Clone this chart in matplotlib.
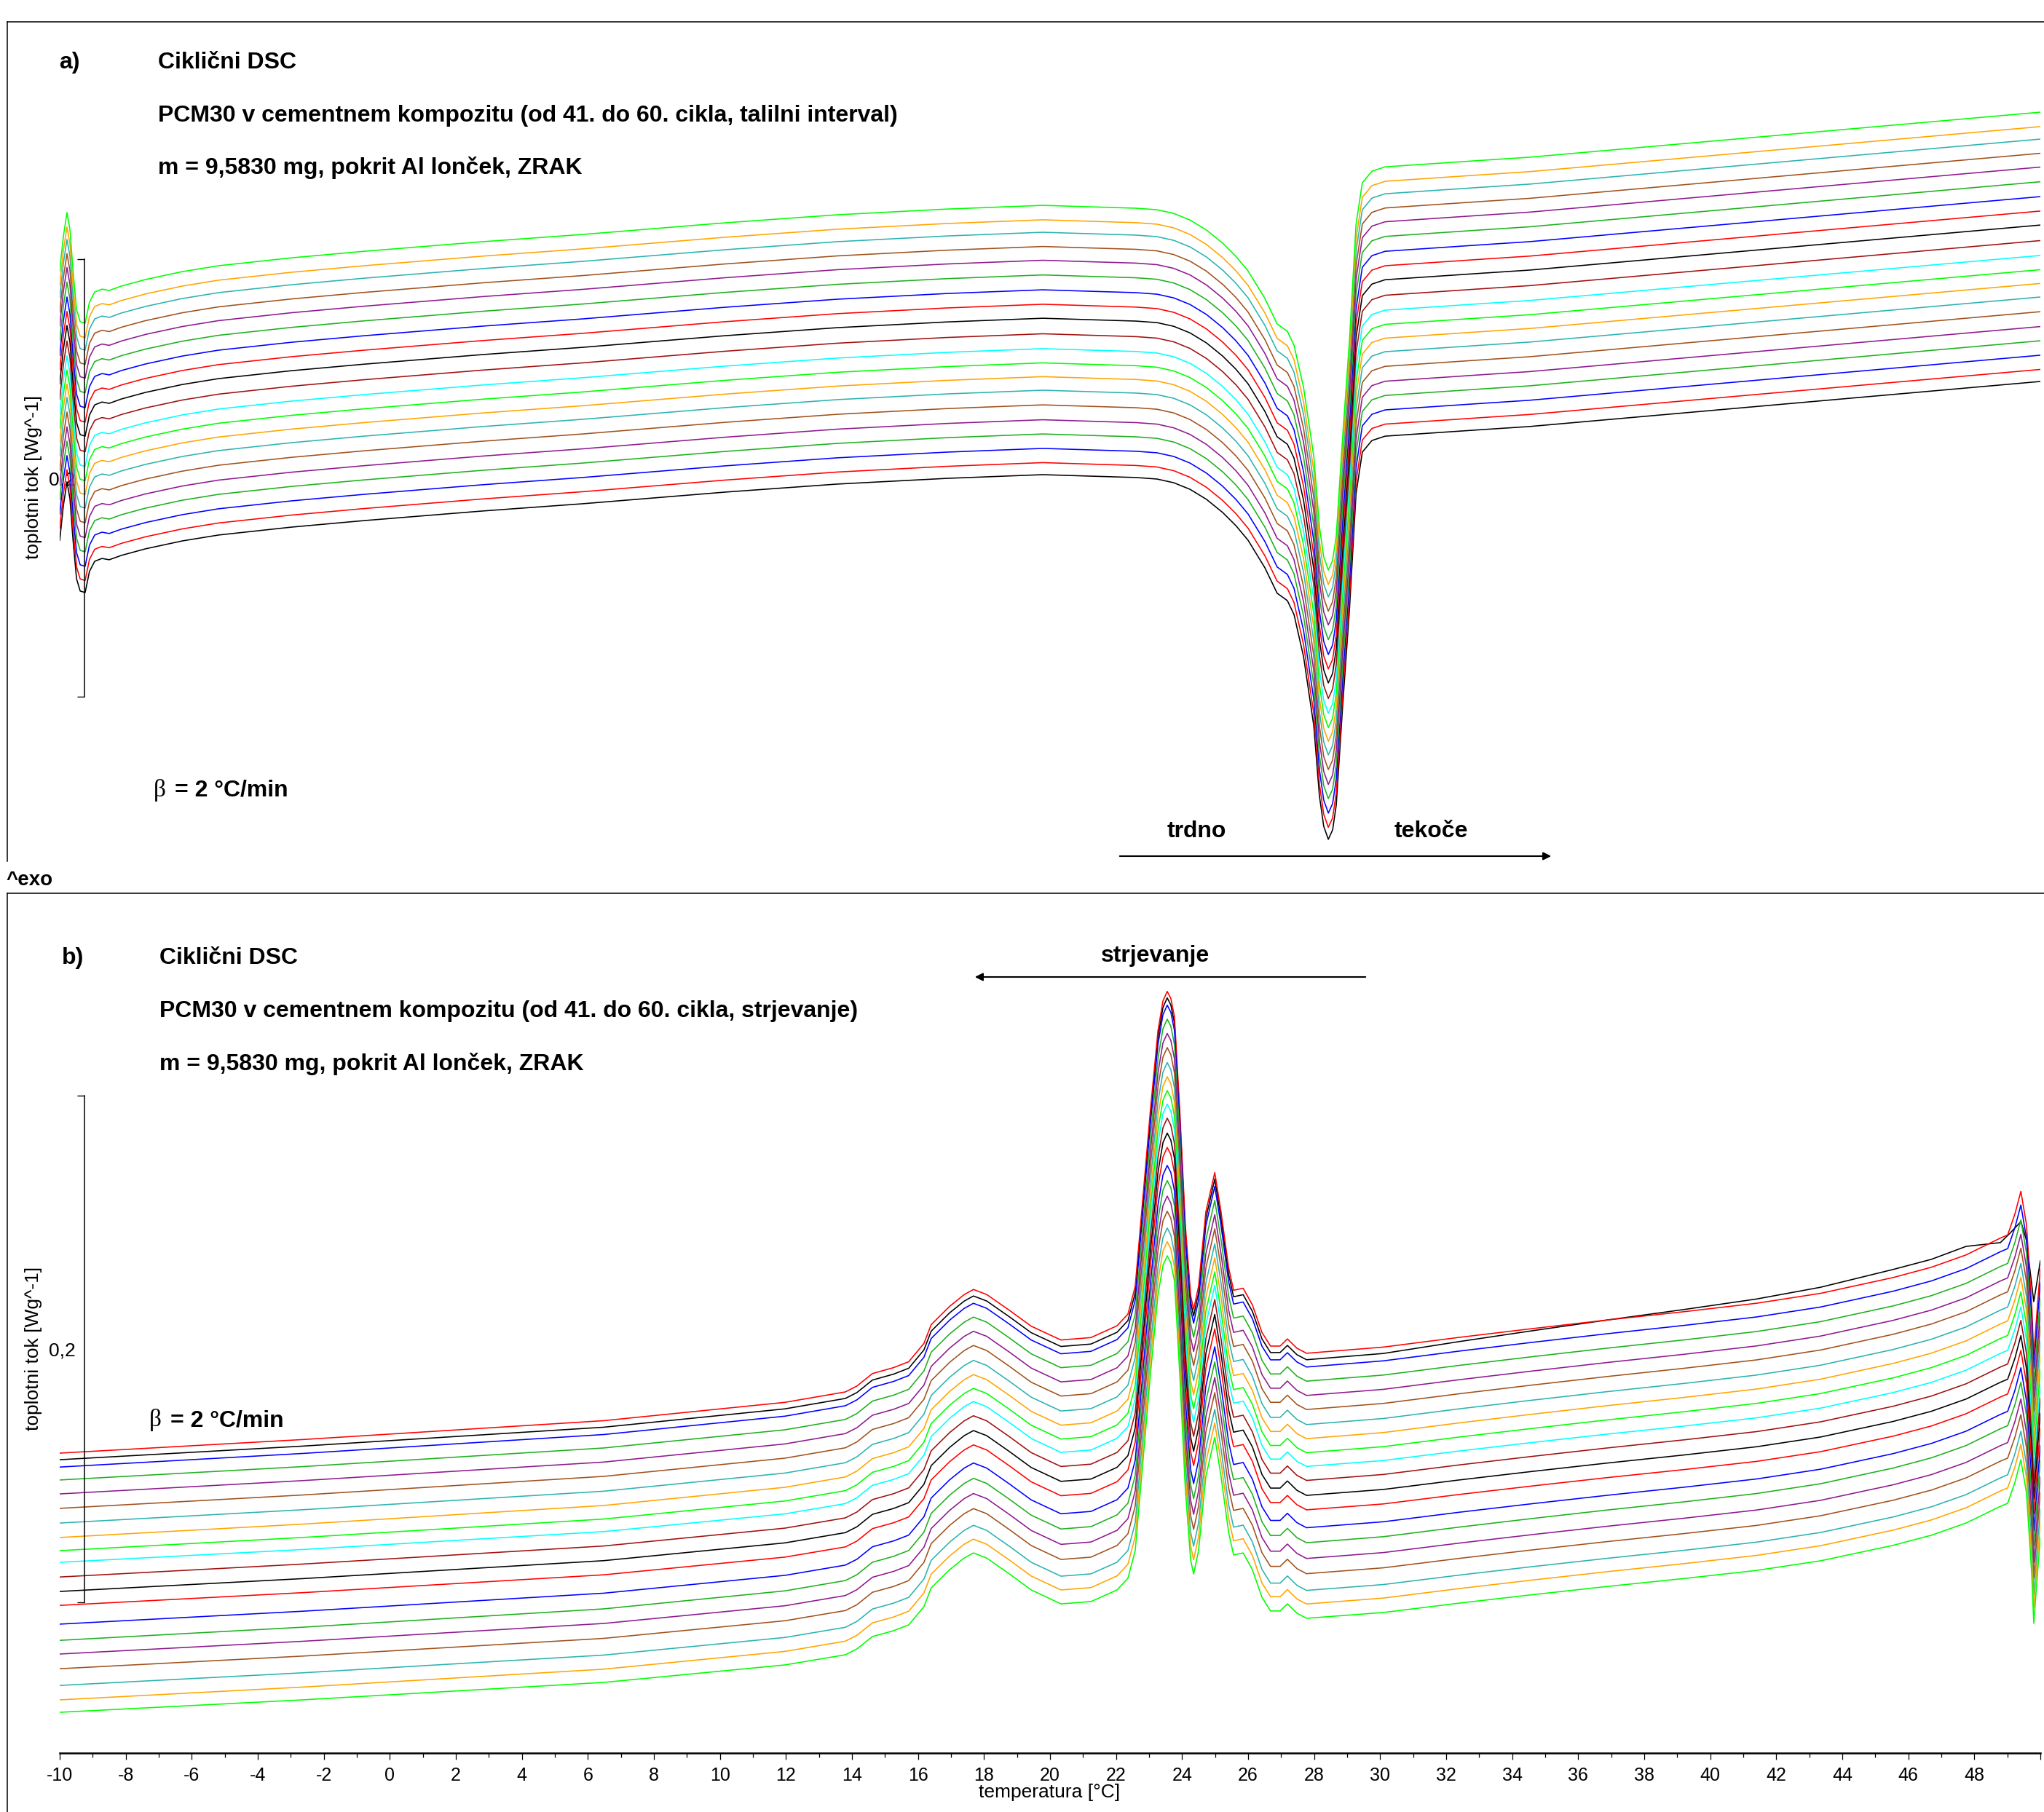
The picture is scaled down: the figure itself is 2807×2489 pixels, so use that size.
import numpy as np
import matplotlib.pyplot as plt
from matplotlib.lines import Line2D

plt.rcParams['font.family'] = ['Liberation Sans', 'DejaVu Sans']

W, H = 2807, 2489

# cycles 41..60, STARe curve colours in cycle order
colors = ['#000000', '#ff0000', '#0000ff', '#1fb01f', '#8e1a8e', '#a0521e',
          '#2cb3b0', '#ffa500', '#00ff00', '#00ffff', '#a01010',
          '#000000', '#ff0000', '#0000ff', '#1fb01f', '#8e1a8e', '#a0521e',
          '#2cb3b0', '#ffa500', '#00ff00']

# a) melting - lowest curve (cycle 41), W/g
melt_t = [-10.00, -9.89, -9.78, -9.69, -9.60, -9.49, -9.38, -9.23, -9.10, -8.94,
          -8.72, -8.50, -8.13, -7.40, -6.29, -5.19, -2.99, -0.78, 2.82, 5.84,
          10.14, 13.56, 16.87, 19.78, 21.28, 22.60, 23.24, 23.75, 24.24, 24.74,
          25.23, 25.63, 26.00, 26.51, 26.88, 27.19, 27.39, 27.68, 27.99, 28.16,
          28.29, 28.43, 28.56, 28.67, 28.87, 29.07, 29.27, 29.46, 29.75, 30.15,
          33.10, 34.52, 50.00]
melt_v = [0.1715, 0.1872, 0.1982, 0.1905, 0.1722, 0.1539, 0.1483, 0.1476, 0.1572, 0.1619,
          0.1632, 0.1626, 0.1646, 0.1676, 0.1712, 0.1739, 0.1775, 0.1805, 0.1849, 0.1882,
          0.1935, 0.1972, 0.1998, 0.2015, 0.2008, 0.2002, 0.1995, 0.1978, 0.1948, 0.1902,
          0.1842, 0.1782, 0.1715, 0.1589, 0.1473, 0.1439, 0.1376, 0.1183, 0.0867, 0.0547,
          0.0408, 0.0348, 0.0391, 0.0504, 0.0970, 0.1396, 0.1928, 0.2118, 0.2171, 0.2191,
          0.2221, 0.2235, 0.2441]
# vertical shift of each cycle above cycle 41
melt_off = [0.0, 0.0055, 0.0120, 0.0186, 0.0251, 0.0319, 0.0386, 0.0448, 0.0511, 0.0576,
            0.0644, 0.0715, 0.0779, 0.0845, 0.0913, 0.0980, 0.1043, 0.1108, 0.1165, 0.1231]

# b) solidification - lowest curve (cycle 60), W/g
solid_t = [-10.00, -2.65, 6.48, 11.97, 13.80, 14.15, 14.62, 15.26, 15.72, 16.18,
           16.40, 16.96, 17.40, 17.68, 18.08, 18.77, 19.43, 20.33, 21.24, 22.03,
           22.36, 22.58, 22.80, 23.04, 23.27, 23.42, 23.55, 23.66, 23.77, 23.93,
           24.10, 24.26, 24.35, 24.50, 24.72, 24.99, 25.18, 25.41, 25.56, 25.85,
           26.13, 26.42, 26.68, 26.97, 27.19, 27.48, 27.77, 30.10, 32.40, 34.60,
           36.90, 39.20, 41.40, 43.34, 45.54, 46.70, 47.75, 48.79, 49.01, 49.23,
           49.41, 49.58, 49.74, 49.80, 49.91, 50.00]
solid_v = [0.0566, 0.0615, 0.0684, 0.0753, 0.0793, 0.0816, 0.0865, 0.0888, 0.0911, 0.0983,
           0.1057, 0.1129, 0.1175, 0.1195, 0.1175, 0.1112, 0.1049, 0.0994, 0.1003, 0.1049,
           0.1095, 0.1204, 0.1534, 0.1899, 0.2213, 0.2330, 0.2368, 0.2340, 0.2267, 0.1899,
           0.1443, 0.1167, 0.1112, 0.1204, 0.1497, 0.1652, 0.1497, 0.1276, 0.1187, 0.1195,
           0.1129, 0.1020, 0.0966, 0.0966, 0.0994, 0.0957, 0.0937, 0.0960, 0.0997, 0.1030,
           0.1063, 0.1094, 0.1126, 0.1164, 0.1225, 0.1265, 0.1313, 0.1379, 0.1391, 0.1474,
           0.1563, 0.1431, 0.1109, 0.0917, 0.1109, 0.1256]
# shift of each cycle above cycle 60, read at -10 °C and at 45.5 °C
solid_off_lo = [0.0997, 0.1023, 0.0968, 0.0917, 0.0862, 0.0805, 0.0747, 0.0690, 0.0638, 0.0592,
                0.0534, 0.0477, 0.0422, 0.0348, 0.0284, 0.0230, 0.0172, 0.0106, 0.0049, 0.0]
solid_off_hi = [0.1089, 0.1057, 0.1003, 0.0945, 0.0888, 0.0833, 0.0773, 0.0718, 0.0661, 0.0603,
                0.0549, 0.0489, 0.0431, 0.0362, 0.0305, 0.0239, 0.0178, 0.0112, 0.0060, 0.0]
off_t_lo, off_t_hi = -10.0, 45.5
# cycle 41 stays just under cycle 42 up to ~30 °C, then climbs above it
black_off_t = [-10.0, 30.0, 45.5]
black_off_v = [0.0997, 0.1022, 0.1089]
# ... and ends with a shallower dip
tail0_t = [47.75, 48.79, 49.08, 49.41, 49.58, 49.80, 50.00]
tail0_v = [0.2405, 0.2420, 0.2457, 0.2503, 0.2428, 0.2187, 0.2348]

xticks = list(range(-10, 51, 2))
xlabels = [str(t) for t in xticks[:-1]] + ['']


def fx(px):
    return px / W


def fy(py):
    return 1 - py / H


fig = plt.figure(figsize=(W / 100, H / 100), dpi=100)

x0, x1 = 82, 2802
ax_a = fig.add_axes([fx(x0), fy(1183), fx(x1) - fx(x0), fy(30) - fy(1183)])
ax_b = fig.add_axes([fx(x0), fy(2408), fx(x1) - fx(x0), fy(1227) - fy(2408)])

t_a = np.array(melt_t)
v_a = np.array(melt_v)
for i in range(20):
    ax_a.plot(t_a, v_a + melt_off[i], color=colors[i], lw=1.15, solid_joinstyle='round')

t_b = np.array(solid_t)
v_b = np.array(solid_v)
frac = (t_b - off_t_lo) / (off_t_hi - off_t_lo)
for i in range(20):
    if i == 0:
        vv = v_b + np.interp(t_b, black_off_t, black_off_v)
        m = t_b < tail0_t[0]
        tt = np.concatenate([t_b[m], tail0_t])
        vv = np.concatenate([vv[m], tail0_v])
    else:
        tt = t_b
        vv = v_b + solid_off_lo[i] + (solid_off_hi[i] - solid_off_lo[i]) * frac
    ax_b.plot(tt, vv, color=colors[i], lw=1.15, solid_joinstyle='round')

ax_a.set_ylim(0.02479, 0.40849)
ax_b.set_ylim(0.04052, 0.37989)

for ax in (ax_a, ax_b):
    ax.set_xlim(-10, 50)
    ax.patch.set_alpha(0)
    for s in ('top', 'right'):
        ax.spines[s].set_visible(False)
    ax.spines['left'].set_position(('data', -9.25))
    ax.spines['left'].set_bounds(0.1, 0.3)
    ax.spines['left'].set_linewidth(1.1)
    ax.set_yticks([0.1, 0.3])
    ax.set_yticklabels(['', ''])
    ax.set_yticks([0.2], minor=True)
    ax.set_yticklabels(['0,2'], minor=True)
    ax.tick_params(axis='y', which='major', length=7, width=1.0, direction='out')
    ax.tick_params(axis='y', which='minor', length=0, pad=8.5, labelsize=19)

ax_a.spines['bottom'].set_visible(False)
ax_a.set_xticks([])

ax_b.spines['bottom'].set_linewidth(1.8)
ax_b.set_xticks(xticks)
ax_b.set_xticklabels(xlabels)
ax_b.set_xticks(range(-9, 50, 2), minor=True)
ax_b.tick_params(axis='x', which='major', length=6.5, width=0.9, pad=7, labelsize=18)
ax_b.tick_params(axis='x', which='minor', length=4.3, width=0.9)

# frame lines
lw_f = 1.1
fig.add_artist(Line2D([fx(10), 1], [fy(30), fy(30)], color='k', lw=lw_f))
fig.add_artist(Line2D([fx(10), fx(10)], [fy(30), fy(1183)], color='k', lw=lw_f))
fig.add_artist(Line2D([fx(10), 1], [fy(1227), fy(1227)], color='k', lw=lw_f))
fig.add_artist(Line2D([fx(10), fx(10)], [fy(1227), 0], color='k', lw=lw_f))

bold = dict(fontsize=23, fontweight='bold', va='baseline')

# panel a texts
fig.text(fx(81), fy(94), 'a)', **bold)
fig.text(fx(217), fy(94), 'Ciklični DSC', **bold)
fig.text(fx(217), fy(167), 'PCM30 v cementnem kompozitu (od 41. do 60. cikla, talilni interval)', **bold)
fig.text(fx(217), fy(239), 'm = 9,5830 mg, pokrit Al lonček, ZRAK', **bold)
fig.text(fx(211), fy(1094), 'β', fontsize=24, family='Liberation Serif', va='baseline')
fig.text(fx(240), fy(1094), '= 2 °C/min', **bold)
fig.text(fx(1643), fy(1150), 'trdno', ha='center', **bold)
fig.text(fx(1965), fy(1150), 'tekoče', ha='center', **bold)
fig.text(fx(46), fy(655), 'toplotni tok [Wg^-1]', rotation=90, ha='center', va='center', fontsize=19)
fig.text(fx(8), fy(1216), '^exo', fontsize=20, fontweight='bold', va='baseline')
ax_a.annotate('', xy=(fx(2133), fy(1176)), xytext=(fx(1535), fy(1176)),
              xycoords='figure fraction', annotation_clip=False,
              arrowprops=dict(arrowstyle='-|>', color='k', lw=1.5, mutation_scale=16))

# panel b texts
fig.text(fx(85), fy(1324), 'b)', **bold)
fig.text(fx(219), fy(1324), 'Ciklični DSC', **bold)
fig.text(fx(219), fy(1397), 'PCM30 v cementnem kompozitu (od 41. do 60. cikla, strjevanje)', **bold)
fig.text(fx(219), fy(1470), 'm = 9,5830 mg, pokrit Al lonček, ZRAK', **bold)
fig.text(fx(205), fy(1959), 'β', fontsize=24, family='Liberation Serif', va='baseline')
fig.text(fx(234), fy(1959), '= 2 °C/min', **bold)
fig.text(fx(1587), fy(1321), 'strjevanje', ha='center', **bold)
fig.text(fx(46), fy(1852), 'toplotni tok [Wg^-1]', rotation=90, ha='center', va='center', fontsize=19)
ax_b.annotate('', xy=(fx(1336), fy(1342)), xytext=(fx(1878), fy(1342)),
              xycoords='figure fraction', annotation_clip=False,
              arrowprops=dict(arrowstyle='-|>', color='k', lw=1.5, mutation_scale=16))
fig.text(fx(1441), fy(2469), 'temperatura [°C]', ha='center', va='baseline', fontsize=19)

fig.savefig('out.png', dpi=100)
